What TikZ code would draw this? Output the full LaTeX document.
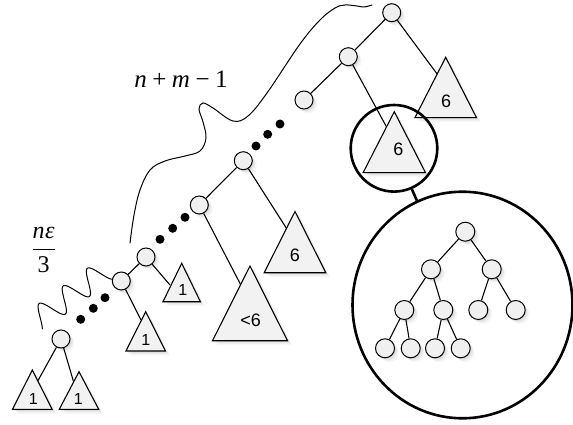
\documentclass[tikz,border=0pt]{standalone}
\usepackage{fontspec}
\setmainfont{Liberation Serif}
\newfontfamily\lblfont{Liberation Sans}
\usetikzlibrary{shapes.geometric,shadows}
\newcommand\mytri[5]{% name, apex x, apex y, half width, height
  \filldraw[tri] (#2,#3) -- ++(-#4,#5) -- ++(2*#4,0) -- cycle;
  \coordinate (#1) at (#2,#3+0.6*#5);}
\begin{document}
\begin{tikzpicture}[x=1pt,y=-1pt,
  softshadow/.style={
    general shadow={fill=black,opacity=0.07,shadow xshift=1.5pt,shadow yshift=-1.5pt},
    general shadow={fill=black,opacity=0.05,shadow xshift=3pt,shadow yshift=-3pt},
    general shadow={fill=black,opacity=0.03,shadow xshift=4.5pt,shadow yshift=-4.5pt}},
  vtx/.style={circle,draw,fill=black!6,minimum size=18pt,inner sep=0pt,line width=1pt,softshadow},
  edge/.style={line width=1.1pt},
  tri/.style={draw,fill=black!5,line width=1.1pt,line join=miter,softshadow},
  lbl/.style={font=\lblfont\fontsize{18}{20}\selectfont,inner sep=0pt},
  lblsmall/.style={font=\lblfont\fontsize{16}{18}\selectfont,inner sep=0pt},
  blackdot/.style={circle,fill=black,minimum size=9pt,inner sep=0pt},
  curve/.style={line width=1pt,line cap=round},
  ring/.style={draw,line width=2.6pt,inner sep=0pt},
  ]
\useasboundingbox (0,0) rectangle (573,425);

% braces / wavy lines
\draw[curve] plot[smooth,tension=0.6] coordinates {(130,243) (134,215) (140,190) (150,170) (165,161) (185,156) (200,151) (206,138) (203,122) (199,109) (203,103) (213,108) (233,121) (248,116) (267,93) (300,44) (320,20) (335,8) (345,5) (357,6) (364,7) (372,5)};
\draw[curve] plot[smooth,domain=-0.05:1,samples=100,variable=\t] ({46+67*\t-0.59*(11+12*cos(1000*(\t-0.1)))},{327-49*\t-0.807*(11+12*cos(1000*(\t-0.1)))});

% texts
\node[font=\fontsize{25}{30}\selectfont,anchor=base,inner sep=0pt] (nm) at (181,88) {\textit{n}\hspace{0.22em}+\hspace{0.22em}\textit{m}\hspace{0.22em}−\hspace{0.22em}1};
\node[font=\fontsize{24}{28}\selectfont,inner sep=0pt] (frac) at (43.7,250) {$\displaystyle\frac{\mbox{\itshape n\kern0.5pt ε}}{\mbox{3}}$};

% spine nodes
\node[vtx] (root) at (391.7,12.7) {};
\node[vtx] (n2) at (348.3,56.7) {};
\node[vtx] (n3) at (304,100) {};
\node[vtx] (A) at (243.3,160.7) {};
\node[vtx] (B) at (199.3,205) {};
\node[vtx] (C) at (146,257) {};
\node[vtx] (D) at (121.3,281) {};
\node[vtx] (E) at (61,339) {};

% dots
\foreach \p/\q [count=\i] in {280/124,267.7/134.3,256/146,185/217.3,172.7/228.3,160/239.3,105/297.7,93.3/308.3,80.7/319.3}
  \node[blackdot] (dot\i) at (\p,\q) {};

% edge targets inside triangles
\coordinate (ti1) at (446,86);
\coordinate (ti2) at (392,137);
\coordinate (ti3) at (292,237);
\coordinate (ti4) at (245,293);
\coordinate (ti5) at (170,285);
\coordinate (ti6) at (141,320);
\coordinate (ti7) at (35,386);
\coordinate (ti8) at (76,390);

\draw[edge] (root) -- (n2);
\draw[edge] (n2) -- (n3);
\draw[edge] (root) -- (ti1);
\draw[edge] (n2) -- (ti2);
\draw[edge] (A) -- (B);
\draw[edge] (A) -- (ti3);
\draw[edge] (B) -- (ti4);
\draw[edge] (C) -- (D);
\draw[edge] (C) -- (ti5);
\draw[edge] (D) -- (ti6);
\draw[edge] (E) -- (ti7);
\draw[edge] (E) -- (ti8);

% triangles
\mytri{tA}{445.7}{57.3}{30.8}{60.4}
\mytri{tB}{394.3}{111.7}{31.2}{61}
\mytri{tC}{295}{211.5}{30.8}{61.2}
\mytri{tD}{250}{266}{37.5}{74.7}
\mytri{tE}{181.7}{263.3}{18.7}{38.4}
\mytri{tF}{145.7}{311.7}{19.8}{39.3}
\mytri{tG}{32.3}{370}{19.8}{39.3}
\mytri{tH}{79}{371.7}{19.7}{37.6}

\node[lbl] (lA) at (446,101) {6};
\node[lbl] (lB) at (398.3,149.3) {6};
\node[lbl] (lC) at (295,255.7) {6};
\node[lbl] (lD) at (250.7,320) {<6};
\node[lblsmall] (lE) at (182.7,290) {1};
\node[lblsmall] (lF) at (145.7,340) {1};
\node[lblsmall] (lG) at (33.3,399.3) {1};
\node[lblsmall] (lH) at (78.3,399.3) {1};

% magnifier rings
\node[ring,circle,minimum size=86.6pt] (small) at (394,148.3) {};
\node[ring,ellipse,minimum width=220pt,minimum height=226.6pt] (big) at (462.5,305) {};
\draw[line width=2.6pt] (small) -- (big);

% inner tree
\node[vtx,minimum size=19pt] (ir) at (465.3,231.7) {};
\node[vtx,minimum size=19pt] (iL) at (431,269.3) {};
\node[vtx,minimum size=19pt] (iR) at (491.7,269.3) {};
\node[vtx,minimum size=19pt] (ia) at (404.3,310) {};
\node[vtx,minimum size=19pt] (ib) at (443.3,310) {};
\node[vtx,minimum size=19pt] (ic) at (478.3,310) {};
\node[vtx,minimum size=19pt] (id) at (515.7,310) {};
\node[vtx,minimum size=19pt] (iaa) at (385,348.3) {};
\node[vtx,minimum size=19pt] (iab) at (410.7,348.3) {};
\node[vtx,minimum size=19pt] (iba) at (435,348.3) {};
\node[vtx,minimum size=19pt] (ibb) at (460.7,348.3) {};
\foreach \u/\v in {ir/iL,ir/iR,iL/ia,iL/ib,iR/ic,iR/id,ia/iaa,ia/iab,ib/iba,ib/ibb}
  \draw[edge] (\u) -- (\v);
\end{tikzpicture}
\end{document}
